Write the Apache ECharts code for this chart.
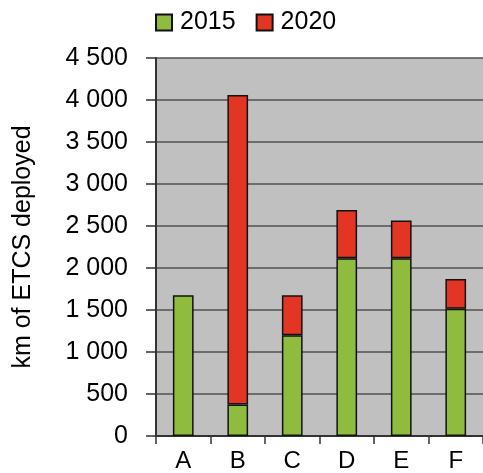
<!DOCTYPE html>
<html><head><meta charset="utf-8">
<script src="https://cdn.jsdelivr.net/npm/echarts@6/dist/echarts.min.js"></script>
<style>html,body{margin:0;padding:0;background:#fff}#c{width:483px;height:473px}</style>
</head><body><div id="c"></div>
<script>
var categories = ['A','B','C','D','E','F'];
var series2015 = [1675, 375, 1200, 2115, 2115, 1515];
var series2020 = [0, 3685, 475, 575, 450, 355];
var yTicks = [0,500,1000,1500,2000,2500,3000,3500,4000,4500];
var seriesNames = ['2015','2020'];

var chart = echarts.init(document.getElementById('c'));
var font = 'Liberation Sans, Arial, Helvetica, sans-serif';
function fmt(v){ return String(v).replace(/\B(?=(\d{3})+(?!\d))/g, ' '); }
function noZero(arr){ return arr.map(function(v){ return v === 0 ? '-' : v; }); }
chart.setOption({
  animation: false,
  textStyle: {fontFamily: font},
  legend: {
    left: 155, top: 10, padding: 0, itemWidth: 16, itemHeight: 16, itemGap: 20, icon: 'rect',
    textStyle: {fontSize: 25, color: '#000', fontFamily: font, padding: [0,0,0,3]},
    data: seriesNames
  },
  grid: {left: 156, right: -2, top: 58, bottom: 35, backgroundColor: '#c0c0c0', show: true, borderWidth: 0},
  xAxis: {
    type: 'category', data: categories,
    axisLine: {lineStyle: {color: '#333', width: 2}},
    axisTick: {show: true, length: 8, lineStyle: {color: '#333', width: 1.5}},
    axisLabel: {fontSize: 24, color: '#000', margin: 13, fontFamily: font}
  },
  yAxis: {
    type: 'value', min: yTicks[0], max: yTicks[yTicks.length-1], interval: 500,
    name: 'km of ETCS deployed', nameLocation: 'middle', nameGap: 120, nameRotate: 90,
    nameTextStyle: {fontSize: 25, color: '#000', fontFamily: font},
    axisLine: {show: true, lineStyle: {color: '#333', width: 2}},
    axisTick: {show: true, length: 10, lineStyle: {color: '#333', width: 1.5}},
    axisLabel: {fontSize: 25, color: '#000', margin: 28, fontFamily: font, formatter: fmt},
    splitLine: {show: true, lineStyle: {color: '#505050', width: 1.5}}
  },
  series: [
    {name: seriesNames[0], type: 'bar', stack: 's', data: noZero(series2015), barWidth: '38%',
     itemStyle: {color: '#8fbc3e', borderColor: '#111', borderWidth: 1.5}},
    {name: seriesNames[1], type: 'bar', stack: 's', data: noZero(series2020), barWidth: '38%',
     itemStyle: {color: '#e33524', borderColor: '#111', borderWidth: 1.5}}
  ]
});
</script></body></html>
